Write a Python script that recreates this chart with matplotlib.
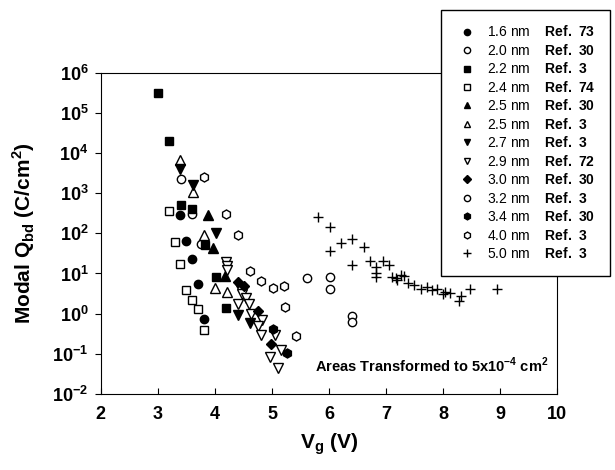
import matplotlib
matplotlib.use("Agg")
from matplotlib import pyplot as plt

plt.rcParams["font.family"] = ["Liberation Sans", "DejaVu Sans"]
plt.rcParams["mathtext.fontset"] = "custom"
plt.rcParams["mathtext.rm"] = "Liberation Sans"
plt.rcParams["mathtext.bf"] = "Liberation Sans:bold"

# 1.6 nm Ref. 73
v_16 = [3.39, 3.50, 3.60, 3.70, 3.81]
q_16 = [282, 66, 23, 5.6, 0.74]
# 2.0 nm Ref. 30
v_20 = [3.40, 3.59, 3.75]
q_20 = [2200, 300, 55]
# 2.2 nm Ref. 3
v_22 = [3.00, 3.19, 3.40, 3.60, 3.82, 4.01, 4.20]
q_22 = [3.2e5, 2.0e4, 520, 400, 52, 8.0, 1.4]
# 2.4 nm Ref. 74
v_24 = [3.19, 3.30, 3.39, 3.49, 3.59, 3.71, 3.81]
q_24 = [355, 62, 17, 3.8, 2.2, 1.3, 0.38]
# 2.5 nm Ref. 30
v_25a = [3.87, 3.97, 4.18]
q_25a = [282, 44, 8.7]
# 2.5 nm Ref. 3
v_25b = [3.39, 3.61, 3.80, 4.00, 4.21]
q_25b = [6600, 1070, 93, 4.4, 3.4]
# 2.7 nm Ref. 3
v_27 = [3.39, 3.61, 4.02, 4.41, 4.61]
q_27 = [4000, 1600, 103, 0.93, 0.59]
# 2.9 nm Ref. 72
v_29 = [4.19, 4.21, 4.22, 4.44, 4.47, 4.54, 4.60, 4.41, 4.63, 4.82,
        4.76, 4.81, 5.05, 4.96, 5.16, 5.11]
q_29 = [19, 15, 12, 4.4, 3.1, 2.5, 1.7, 1.75, 1.0, 0.71,
        0.48, 0.29, 0.29, 0.085, 0.126, 0.044]
# 3.0 nm Ref. 30
v_30 = [4.41, 4.51, 4.75, 4.98]
q_30 = [6.2, 5.0, 1.15, 0.17]
# 3.2 nm Ref. 3
v_32 = [5.62, 6.02, 6.02, 6.40, 6.40]
q_32 = [7.6, 8.0, 4.1, 0.89, 0.63]
# 3.4 nm Ref. 30
v_34 = [5.01, 5.26]
q_34 = [0.42, 0.105]
# 4.0 nm Ref. 3
v_40 = [3.81, 4.19, 4.41, 4.61, 4.81, 5.01, 5.21, 5.22, 5.42]
q_40 = [2600, 310, 93, 11.5, 6.6, 4.4, 4.8, 1.5, 0.27]
# 5.0 nm Ref. 3
v_50 = [5.81, 6.01, 6.01, 6.21, 6.40, 6.61, 6.40, 6.71, 6.82, 6.82,
        6.82, 6.94, 7.05, 7.10, 7.17, 7.20, 7.27, 7.32, 7.39, 7.49,
        7.61, 7.71, 7.80, 7.89, 7.99, 8.04, 8.12, 8.27, 8.31, 8.47, 8.94]
q_50 = [250, 148, 37, 58, 74, 46, 16.6, 21, 14.5, 10.2,
        8.1, 20, 16.6, 8.1, 7.7, 6.8, 9.3, 8.8, 5.8, 5.3,
        4.0, 4.6, 3.8, 4.0, 3.0, 3.5, 3.3, 2.1, 2.8, 4.0, 4.2]

thick = ["1.6", "2.0", "2.2", "2.4", "2.5", "2.5", "2.7", "2.9", "3.0", "3.2", "3.4", "4.0", "5.0"]
refs = ["73", "30", "3", "74", "30", "3", "3", "72", "30", "3", "30", "3", "3"]

xticks = [2, 3, 4, 5, 6, 7, 8, 9, 10]
yexp = [-2, -1, 0, 1, 2, 3, 4, 5, 6]

series = [
    (v_16, q_16, "o", "k", 6),
    (v_20, q_20, "o", "w", 6),
    (v_22, q_22, "s", "k", 6),
    (v_24, q_24, "s", "w", 6),
    (v_25a, q_25a, "^", "k", 6.5),
    (v_25b, q_25b, "^", "w", 6.5),
    (v_27, q_27, "v", "k", 6.5),
    (v_29, q_29, "v", "w", 6.5),
    (v_30, q_30, "D", "k", 5.5),
    (v_32, q_32, "o", "w", 6),
    (v_34, q_34, "h", "k", 6.5),
    (v_40, q_40, "h", "w", 6.5),
    (v_50, q_50, "+", "k", 7.5),
]

fig = plt.figure(figsize=(6.15, 4.70), dpi=100)
ax = fig.add_axes([0.164, 0.162, 0.742, 0.683])

for (xs, ys, m, fc, ms), t, r in zip(series, thick, refs):
    ax.plot(xs, ys, linestyle="none", marker=m, markersize=ms,
            markerfacecolor=fc, markeredgecolor="k", markeredgewidth=1.0,
            color="k", label=t + " nm    $\\mathbf{Ref.\\ " + r + "}$")

ax.set_yscale("log")
ax.set_xlim(2, 10)
ax.set_ylim(1e-2, 1e6)
ax.set_xticks(xticks)
ax.set_xticklabels([str(x) for x in xticks], fontweight="bold", fontsize=13)
ax.set_yticks([10.0 ** e for e in yexp])
ax.set_yticklabels(["$\\mathbf{10^{%d}}$" % e for e in yexp], fontsize=13)
ax.minorticks_off()
ax.tick_params(axis="x", direction="in", length=4, pad=9)
ax.tick_params(axis="y", direction="out", length=4, pad=5)

ax.set_xlabel("V$_\\mathbf{g}$ (V)", fontweight="bold", fontsize=15, labelpad=6)
ax.set_ylabel("Modal Q$_\\mathbf{bd}$ (C/cm$^\\mathbf{2}$)", fontweight="bold",
              fontsize=15, labelpad=11)

ax.text(0.98, 0.06, "Areas Transformed to 5x10$^\\mathbf{-4}$ cm$^\\mathbf{2}$",
        transform=ax.transAxes, ha="right", va="bottom",
        fontweight="bold", fontsize=10.5)

leg = ax.legend(loc="upper left", bbox_to_anchor=(0.717, 0.979),
                bbox_transform=fig.transFigure, frameon=True, fancybox=False,
                edgecolor="k", framealpha=1, fontsize=10, labelspacing=0.25,
                handlelength=1.64, handletextpad=0.6, borderpad=1.05,
                borderaxespad=0, markerscale=0.75)
leg.get_frame().set_linewidth(1.0)

fig.savefig("out.png", dpi=100)
